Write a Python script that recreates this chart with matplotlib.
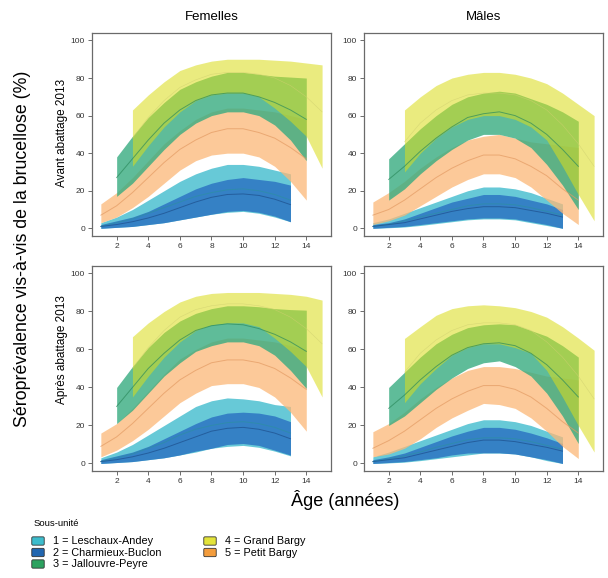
import matplotlib
matplotlib.use('Agg')
import matplotlib.pyplot as plt
from matplotlib.patches import FancyBboxPatch

plt.rcParams['font.family'] = ['Liberation Sans', 'DejaVu Sans']

# ages covered by each sub-unit
ages_lesc = list(range(1, 14))   # 1 Leschaux-Andey
ages_charm = list(range(1, 14))  # 2 Charmieux-Buclon
ages_jall = list(range(2, 15))   # 3 Jallouvre-Peyre
ages_grand = list(range(3, 16))  # 4 Grand Bargy
ages_petit = list(range(1, 15))  # 5 Petit Bargy

# ---- Femelles, avant abattage 2013
fa_lesc_lo = [0, 0.5, 1, 2, 3, 4.5, 6, 7.5, 8.5, 9, 8, 6, 3.5]
fa_lesc_med = [1, 3, 5, 8, 11, 14, 17, 19, 20.5, 21, 20, 18, 15]
fa_lesc_up = [3, 6, 10, 15, 20, 25, 29, 32, 34, 34, 33, 31, 29]
fa_charm_lo = [0, 0.5, 1, 2, 3, 4.5, 6, 7.5, 9, 9.5, 8.5, 6.5, 3.5]
fa_charm_med = [1, 2, 3.5, 5.5, 8, 11, 14, 16.5, 18, 18.3, 17.5, 15.5, 12.6]
fa_charm_up = [2, 4, 6, 9, 13, 17, 21, 24, 26, 27, 26, 25, 23]
fa_jall_lo = [17, 24, 33, 42, 50, 56, 60, 62, 62, 60, 55, 47, 36]
fa_jall_med = [27, 37, 47, 56, 63, 68, 71, 72, 72, 70, 67, 63, 58]
fa_jall_up = [38, 49, 59, 67, 74, 78, 81, 83, 83, 82, 81, 80.5, 80]
fa_grand_lo = [33, 44, 54, 62, 68, 71, 72, 72, 70, 64, 57, 49, 32]
fa_grand_med = [48, 59, 68, 75, 79, 82, 83, 83, 82, 80, 76, 70, 62]
fa_grand_up = [63, 71, 78, 84, 87, 89, 90, 90, 90, 89.5, 89, 88, 87]
fa_petit_lo = [3, 6, 11, 17, 24, 31, 36, 39, 40, 40, 38, 33, 25, 15]
fa_petit_med = [7, 12, 19, 27, 35, 42, 47, 51, 53, 53, 51, 48, 43, 37]
fa_petit_up = [13, 19, 27, 36, 45, 52, 58, 62, 64, 64, 63, 62, 60, 58]

# ---- Males, avant abattage 2013
ma_lesc_lo = [0, 0.3, 0.7, 1.5, 2.5, 3.5, 4.5, 5, 5, 4.5, 3, 1.5, 0]
ma_lesc_med = [1, 2, 4, 6, 8, 10, 12, 13, 13, 12.5, 11, 9, 7]
ma_lesc_up = [3, 5, 8, 11, 14, 17, 20, 22, 22, 21, 19, 16, 13]
ma_charm_lo = [0, 0.5, 1, 2, 3, 4, 5, 5.5, 5.5, 5, 3.5, 2, 0]
ma_charm_med = [1, 2, 3, 5, 7, 9, 10.5, 11.5, 11.5, 11, 9.5, 8, 6]
ma_charm_up = [2, 3, 5, 8, 11, 14, 16, 18, 18, 17, 15, 13, 10]
ma_jall_lo = [15, 21, 29, 36, 42, 47, 50, 50, 48, 43, 34, 23, 10]
ma_jall_med = [26, 33, 41, 48, 54, 59, 61, 62, 60, 56, 50, 42, 33]
ma_jall_up = [37, 45, 53, 60, 66, 70, 72, 73, 72, 69, 66, 62, 57]
ma_grand_lo = [30, 40, 48, 54, 58, 60, 60, 58, 54, 47, 33, 18, 4]
ma_grand_med = [46, 56, 63, 68, 71, 72, 72, 71, 68, 63, 55, 45, 33]
ma_grand_up = [63, 70, 76, 80, 82, 83, 83, 82, 80, 77, 72, 66, 60]
ma_petit_lo = [2, 4, 7, 12, 17, 22, 26, 29, 29, 27, 22, 15, 8, 2]
ma_petit_med = [7, 10, 15, 21, 27, 32, 36, 39, 39, 37, 33, 28, 21, 15]
ma_petit_up = [14, 19, 25, 32, 38, 43, 47, 49, 50, 48, 46, 45, 44, 43]

# ---- Femelles, apres abattage 2013
fp_lesc_lo = [0, 0.5, 1, 2, 3, 4.5, 6, 8, 9, 9.5, 8.5, 6.5, 4]
fp_lesc_med = [1, 3, 5, 8, 11, 15, 18, 20, 21.5, 22, 21, 19, 16]
fp_lesc_up = [3, 6, 10, 15, 20, 25, 30, 33, 34.5, 34, 33, 31, 30]
fp_charm_lo = [0, 0.5, 1, 2, 3, 4.5, 6.5, 8, 10, 10.5, 9.5, 7, 4.4]
fp_charm_med = [1, 2, 3.5, 5.5, 8, 11, 14, 17, 18.5, 19, 18, 16, 13]
fp_charm_up = [2, 4, 6, 9, 13, 17, 21, 24.5, 26.5, 27, 26.5, 25, 22]
fp_jall_lo = [21, 28, 37, 46, 53, 59, 62, 64, 64, 62, 57, 49, 39.5]
fp_jall_med = [30, 40, 50, 58, 65, 70, 72.5, 73.5, 73, 71, 68, 64, 59]
fp_jall_up = [40, 51, 61, 69, 75, 79, 81.5, 83, 83, 82.5, 81.5, 81, 80.7]
fp_grand_lo = [35, 46, 56, 64, 70, 73, 74, 74, 72, 66, 59, 51, 35]
fp_grand_med = [50, 61, 70, 77, 81, 83, 84, 84, 83, 81, 77, 71, 63]
fp_grand_up = [66.7, 74, 80, 85, 88, 89.5, 90, 90, 90, 89.5, 89, 88, 86]
fp_petit_lo = [3.5, 7, 12, 18, 25, 32, 37, 41, 42, 42, 40, 35, 27, 17]
fp_petit_med = [9, 14, 21, 29, 37, 44, 49, 53, 54.5, 54.5, 53, 50, 45, 39]
fp_petit_up = [16, 21, 29, 38, 47, 55, 60, 64, 66, 66, 65, 64, 62, 60]

# ---- Males, apres abattage 2013
mp_lesc_lo = [0, 0.3, 0.7, 1.5, 2.5, 3.5, 4.5, 5.5, 5.5, 5, 3.5, 1.5, 0]
mp_lesc_med = [1, 2.5, 4, 6, 8.5, 10.5, 12.5, 13.5, 13.5, 13, 11.5, 9.5, 7.5]
mp_lesc_up = [3.5, 6, 9, 12, 15, 18, 21, 23, 23, 22, 20, 17, 14]
mp_charm_lo = [0, 0.5, 1, 2, 3, 4.5, 5.5, 5.6, 5.6, 5, 3.5, 2, 0]
mp_charm_med = [1, 2, 3, 5, 7, 9, 11, 12.3, 12.3, 11.5, 10, 8.5, 6.5]
mp_charm_up = [2, 3.5, 5.5, 8.5, 11.5, 14.5, 17, 19, 19, 18, 16, 13.5, 10.5]
mp_jall_lo = [20, 25, 32, 39, 45, 50, 53, 54, 51, 46, 37, 25, 10.5]
mp_jall_med = [29, 36, 44, 51, 57, 61, 63, 63.5, 62, 58, 52, 44, 35]
mp_jall_up = [40, 48, 56, 63, 68, 71.5, 73, 73.5, 73, 70, 67, 62, 56]
mp_grand_lo = [32, 42, 50, 57, 61, 63, 63, 61, 58, 49, 35, 20, 6]
mp_grand_med = [48, 58, 65, 70, 73, 74, 74, 73, 70, 64, 56, 46, 34]
mp_grand_up = [65.8, 72, 78, 81.5, 83, 83.5, 83, 82, 80, 77, 72, 66, 59.6]
mp_petit_lo = [3.5, 5, 8, 13, 19, 24, 28, 31.6, 31, 29, 24, 17, 9, 2.6]
mp_petit_med = [8, 12, 17, 23, 29, 34, 38, 41, 41, 39, 35, 29, 22, 16]
mp_petit_up = [16.7, 21, 27, 34, 40, 45, 49, 51, 51, 50, 48, 46, 45, 44]

labels = ['1 = Leschaux-Andey', '2 = Charmieux-Buclon', '3 = Jallouvre-Peyre',
          '4 = Grand Bargy', '5 = Petit Bargy']
swatch_colors = ['#3dbccc', '#2166b0', '#2ca25f', '#e3e33a', '#f39c3c']

# band fill / alpha / median line, in drawing order
styles = {
    'lesc': ('#4cc0d0', 0.85, '#2c8fa3'),
    'charm': ('#3079c4', 0.9, '#1d4f8c'),
    'petit': ('#fcb877', 0.75, '#e39a62'),
    'jall': ('#37ab80', 0.8, '#2b8a5c'),
    'grand': ('#dadd1c', 0.56, '#d0d070'),
}
ages = {'lesc': ages_lesc, 'charm': ages_charm, 'jall': ages_jall,
        'grand': ages_grand, 'petit': ages_petit}

panels = {
    'fa': {'lesc': (fa_lesc_lo, fa_lesc_med, fa_lesc_up),
           'charm': (fa_charm_lo, fa_charm_med, fa_charm_up),
           'jall': (fa_jall_lo, fa_jall_med, fa_jall_up),
           'grand': (fa_grand_lo, fa_grand_med, fa_grand_up),
           'petit': (fa_petit_lo, fa_petit_med, fa_petit_up)},
    'ma': {'lesc': (ma_lesc_lo, ma_lesc_med, ma_lesc_up),
           'charm': (ma_charm_lo, ma_charm_med, ma_charm_up),
           'jall': (ma_jall_lo, ma_jall_med, ma_jall_up),
           'grand': (ma_grand_lo, ma_grand_med, ma_grand_up),
           'petit': (ma_petit_lo, ma_petit_med, ma_petit_up)},
    'fp': {'lesc': (fp_lesc_lo, fp_lesc_med, fp_lesc_up),
           'charm': (fp_charm_lo, fp_charm_med, fp_charm_up),
           'jall': (fp_jall_lo, fp_jall_med, fp_jall_up),
           'grand': (fp_grand_lo, fp_grand_med, fp_grand_up),
           'petit': (fp_petit_lo, fp_petit_med, fp_petit_up)},
    'mp': {'lesc': (mp_lesc_lo, mp_lesc_med, mp_lesc_up),
           'charm': (mp_charm_lo, mp_charm_med, mp_charm_up),
           'jall': (mp_jall_lo, mp_jall_med, mp_jall_up),
           'grand': (mp_grand_lo, mp_grand_med, mp_grand_up),
           'petit': (mp_petit_lo, mp_petit_med, mp_petit_up)},
}

fig = plt.figure(figsize=(6.08, 5.78), dpi=100)

# axes boxes in figure fractions
boxes = {'fa': [0.1513, 0.592, 0.393, 0.351],
         'ma': [0.5987, 0.592, 0.393, 0.351],
         'fp': [0.1513, 0.185, 0.393, 0.355],
         'mp': [0.5987, 0.185, 0.393, 0.355]}

for key, box in boxes.items():
    ax = fig.add_axes(box)
    for grp in ['lesc', 'charm', 'petit', 'jall', 'grand']:
        lo, med, up = panels[key][grp]
        col, alpha, lcol = styles[grp]
        ax.fill_between(ages[grp], lo, up, color=col, alpha=alpha, linewidth=0)
        lw = 0.4 if grp == 'grand' else 0.7
        ax.plot(ages[grp], med, color=lcol, lw=lw, alpha=0.7)
    ax.set_xlim(0.44, 15.56)
    ax.set_ylim(-4, 104)
    ax.set_xticks(range(2, 15, 2))
    ax.set_yticks(range(0, 101, 20))
    ax.tick_params(labelsize=6, length=3, width=0.6, color='#555555',
                   labelcolor='#333333', pad=2)
    for sp in ax.spines.values():
        sp.set_color('#6a6a6a')
        sp.set_linewidth(0.9)

fig.text(0.348, 0.971, 'Femelles', ha='center', va='center', fontsize=9.5)
fig.text(0.796, 0.971, 'Mâles', ha='center', va='center', fontsize=9.5)
fig.text(0.037, 0.57, 'Séroprévalence vis-à-vis de la brucellose (%)',
         rotation=90, ha='center', va='center', fontsize=12.8)
fig.text(0.102, 0.77, 'Avant abattage 2013', rotation=90, ha='center',
         va='center', fontsize=8.5)
fig.text(0.102, 0.395, 'Après abattage 2013', rotation=90, ha='center',
         va='center', fontsize=8.5)
fig.text(0.568, 0.135, 'Âge (années)', ha='center', va='center', fontsize=13)

# legend
fig.text(34 / 608, 1 - 523 / 578, 'Sous-unité', ha='left', va='center', fontsize=6.8)
rows_y = [541, 552.5, 564]
for i, (lab, col) in enumerate(zip(labels, swatch_colors)):
    cx = 33 if i < 3 else 205
    cy = rows_y[i] if i < 3 else rows_y[i - 3]
    fig.add_artist(FancyBboxPatch((cx / 608, 1 - (cy + 3) / 578), 10 / 608, 6 / 578,
                                  boxstyle='round,pad=0.002', transform=fig.transFigure,
                                  facecolor=col, edgecolor='#333333', linewidth=0.6))
    fig.text((cx + 20) / 608, 1 - cy / 578, lab, ha='left', va='center', fontsize=7.8)

fig.savefig('out.png', dpi=100)
